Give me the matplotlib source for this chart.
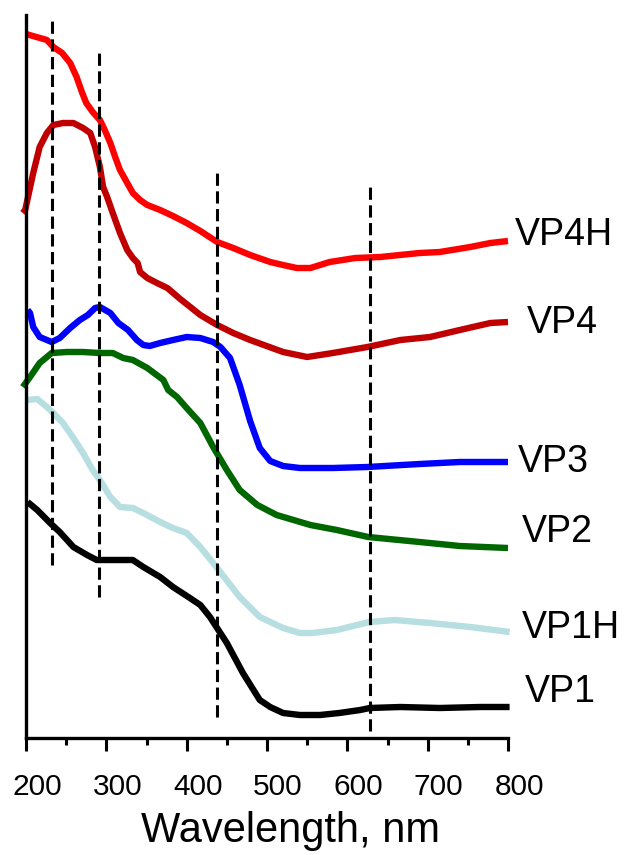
import matplotlib
matplotlib.use('Agg')
import matplotlib.pyplot as plt
from matplotlib.ticker import MultipleLocator
from matplotlib.transforms import ScaledTranslation

plt.rcParams['font.family'] = ['Liberation Sans', 'DejaVu Sans']

# spectres (nm, absorbance u.a. decalee)
wl_vp4h = [200, 226, 234, 245, 255, 263, 270, 275, 283, 292, 298, 305, 311, 317, 326, 333, 342, 351, 367,
           383, 400, 417, 438, 458, 479, 504, 520, 537, 554, 578, 610, 641, 690, 715, 753, 778, 800]
a_vp4h = [7.04, 6.98, 6.91, 6.85, 6.75, 6.61, 6.45, 6.35, 6.26, 6.18, 6.08, 5.95, 5.81, 5.68, 5.55, 5.45, 5.38,
          5.33, 5.28, 5.22, 5.15, 5.07, 4.96, 4.90, 4.83, 4.76, 4.73, 4.70, 4.70, 4.76, 4.80, 4.81, 4.85, 4.86,
          4.91, 4.95, 4.97]

wl_vp4 = [196, 199, 209, 217, 226, 234, 246, 259, 271, 280, 286, 292, 296, 301, 308, 317, 326, 333, 339, 342,
          351, 363, 376, 392, 417, 438, 458, 479, 520, 550, 582, 625, 666, 703, 740, 778, 800]
a_vp4 = [5.25, 5.28, 5.65, 5.91, 6.05, 6.13, 6.15, 6.15, 6.10, 6.05, 5.91, 5.71, 5.51, 5.41, 5.25, 5.05, 4.88,
         4.80, 4.75, 4.66, 4.60, 4.55, 4.50, 4.39, 4.23, 4.13, 4.05, 3.98, 3.86, 3.81, 3.85, 3.91, 3.98, 4.01,
         4.08, 4.15, 4.16]

wl_vp3 = [202, 205, 209, 217, 232, 242, 255, 267, 277, 286, 292, 305, 315, 327, 338, 346, 354, 367, 383, 400,
          417, 433, 442, 454, 466, 479, 491, 504, 520, 541, 582, 625, 690, 740, 800]
a_vp3 = [4.28, 4.25, 4.11, 4.01, 3.96, 4.00, 4.10, 4.18, 4.23, 4.30, 4.31, 4.25, 4.15, 4.08, 3.98, 3.93, 3.92,
         3.95, 3.98, 4.01, 4.00, 3.96, 3.91, 3.80, 3.53, 3.17, 2.90, 2.77, 2.72, 2.70, 2.70, 2.71, 2.74, 2.76,
         2.76]

wl_vp2 = [196, 205, 217, 232, 251, 271, 292, 308, 321, 333, 351, 371, 377, 388, 400, 417, 433, 450, 466, 488,
          512, 554, 587, 626, 690, 740, 800]
a_vp2 = [3.51, 3.61, 3.75, 3.85, 3.86, 3.86, 3.85, 3.85, 3.80, 3.78, 3.70, 3.58, 3.48, 3.41, 3.30, 3.15, 2.91,
         2.68, 2.48, 2.33, 2.23, 2.13, 2.08, 2.01, 1.96, 1.92, 1.90]

wl_vp1h = [202, 214, 226, 234, 246, 259, 271, 283, 292, 305, 317, 333, 346, 367, 383, 400, 417, 438, 466, 491,
           520, 541, 557, 587, 612, 628, 659, 703, 753, 802]
a_vp1h = [3.38, 3.39, 3.31, 3.25, 3.15, 3.00, 2.85, 2.68, 2.58, 2.41, 2.31, 2.30, 2.25, 2.16, 2.10, 2.05, 1.91,
          1.70, 1.41, 1.21, 1.10, 1.05, 1.05, 1.08, 1.13, 1.16, 1.18, 1.15, 1.11, 1.06]

wl_vp1 = [202, 214, 230, 242, 259, 276, 288, 305, 333, 346, 367, 383, 404, 417, 429, 450, 470, 491, 504, 520,
          541, 566, 590, 616, 628, 666, 715, 765, 802]
a_vp1 = [2.36, 2.28, 2.15, 2.06, 1.91, 1.83, 1.78, 1.78, 1.78, 1.71, 1.61, 1.51, 1.40, 1.33, 1.21, 0.95, 0.65,
         0.38, 0.31, 0.25, 0.23, 0.23, 0.25, 0.28, 0.30, 0.31, 0.30, 0.31, 0.31]

# bandes marquees en pointilles
bandes = [232, 291, 438, 628]
bandes_bas = [1.73, 1.41, 0.21, 0.07]
bandes_haut = [7.20, 6.88, 5.68, 5.54]

series = [
    ('VP4H', wl_vp4h, a_vp4h, '#FF0000', 809, 5.03),
    ('VP4', wl_vp4, a_vp4, '#C00000', 824, 4.15),
    ('VP3', wl_vp3, a_vp3, '#0000FF', 812, 2.76),
    ('VP2', wl_vp2, a_vp2, '#006600', 817, 2.06),
    ('VP1H', wl_vp1h, a_vp1h, '#B7DEE0', 817, 1.10),
    ('VP1', wl_vp1, a_vp1, '#000000', 821, 0.46),
]

fig = plt.figure(figsize=(6.27, 8.55), dpi=100)
ax = fig.add_axes([26 / 627, 117 / 855, 482 / 627, 723 / 855])

for nom, x, y, c, xt, yt in series:
    ax.plot(x, y, color=c, lw=4.6, solid_capstyle='butt', solid_joinstyle='round', clip_on=False)
    ax.text(xt, yt, nom, fontsize=27, va='center', ha='left', clip_on=False)

ax.vlines(bandes, bandes_bas, bandes_haut, colors='k', lw=2.2, linestyles=(0, (4, 1.8)), zorder=5)

ax.set_xlim(200, 800)
ax.set_ylim(0, 7.23)
ax.xaxis.set_major_locator(MultipleLocator(100))
ax.xaxis.set_minor_locator(MultipleLocator(50))
ax.tick_params(axis='x', which='major', direction='out', length=9.5, width=2.2, labelsize=21.5, pad=16)
ax.tick_params(axis='x', which='minor', direction='out', length=5, width=2.2)
ax.set_yticks([])
for s in ['top', 'right']:
    ax.spines[s].set_visible(False)
ax.spines['left'].set_linewidth(2.4)
ax.spines['bottom'].set_linewidth(2.4)

# les etiquettes sont un peu decalees a droite dans l'original
decal = ScaledTranslation(11 / 100, 0, fig.dpi_scale_trans)
for lab in ax.get_xticklabels():
    lab.set_transform(lab.get_transform() + decal)

ax.set_xlabel('Wavelength, nm', fontsize=30)
ax.xaxis.set_label_coords(0.548, -0.101)

plt.savefig('out.png', dpi=100)
